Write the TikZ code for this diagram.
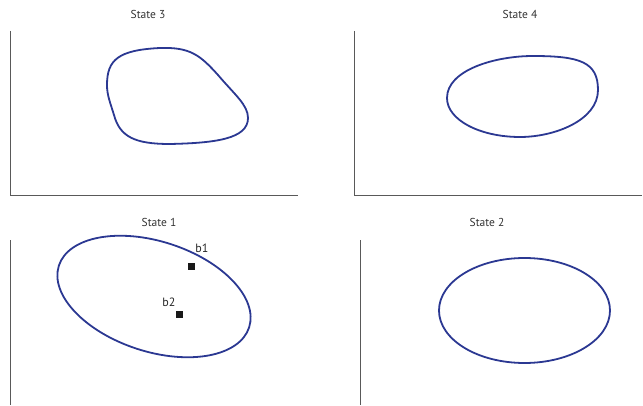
\documentclass[tikz,border=0pt]{standalone}
\usepackage{fontspec}
\setmainfont{PT Sans}
\begin{document}
\begin{tikzpicture}[x=1pt,y=1pt,
  axis/.style={draw=black!65,line width=1pt},
  curve/.style={draw=blobblue,line width=1.8pt},
  title/.style={text=black!80,font=\fontsize{11.5}{13}\selectfont,inner sep=0pt},
  lbl/.style={text=black!85,font=\fontsize{12}{13}\selectfont,inner sep=0pt},
  pt/.style={fill=black!90,minimum size=7pt,inner sep=0pt}]
\definecolor{blobblue}{RGB}{43,56,146}
\useasboundingbox (0,0) rectangle (643,405);
% titles
\node[title] (t3) at (148,391) {State 3};
\node[title] (t4) at (520,391) {State 4};
\node[title] (t1) at (159,183) {State 1};
\node[title] (t2) at (487,183) {State 2};
% axes
\draw[axis] (10,374) -- (10,209) -- (298,209);
\draw[axis] (354,374) -- (354,209) -- (642,209);
\draw[axis] (10,165) -- (10,0);
\draw[axis] (360,165) -- (360,0);
% State 3 blob
\draw[curve] (107,320) .. controls (107,345) and (118,355) .. (160,357)
  .. controls (190,358) and (200,350) .. (218,330)
  .. controls (235,310) and (248,300) .. (248,287)
  .. controls (248,266) and (215,262) .. (170,261)
  .. controls (135,261) and (120,268) .. (114,290)
  .. controls (110,303) and (107,310) .. (107,320) -- cycle;
% State 4 blob
\draw[curve] (447,307) .. controls (447,335) and (495,349) .. (533,349)
  .. controls (580,349) and (598,343) .. (598,315)
  .. controls (598,285) and (555,268) .. (520,268)
  .. controls (480,268) and (447,285) .. (447,307) -- cycle;
% State 1 ellipse
\draw[curve] (154,108.5) ellipse[x radius=100, y radius=55, rotate=-18];
% State 2 ellipse
\draw[curve] (524.5,94.5) ellipse[x radius=85.5, y radius=52.5];
% points
\node[pt] (b1) at (191,139) {};
\node[pt] (b2) at (179,91) {};
\node[lbl] (lb1) at (202,157) {b1};
\node[lbl] (lb2) at (169,103) {b2};
\end{tikzpicture}
\end{document}
